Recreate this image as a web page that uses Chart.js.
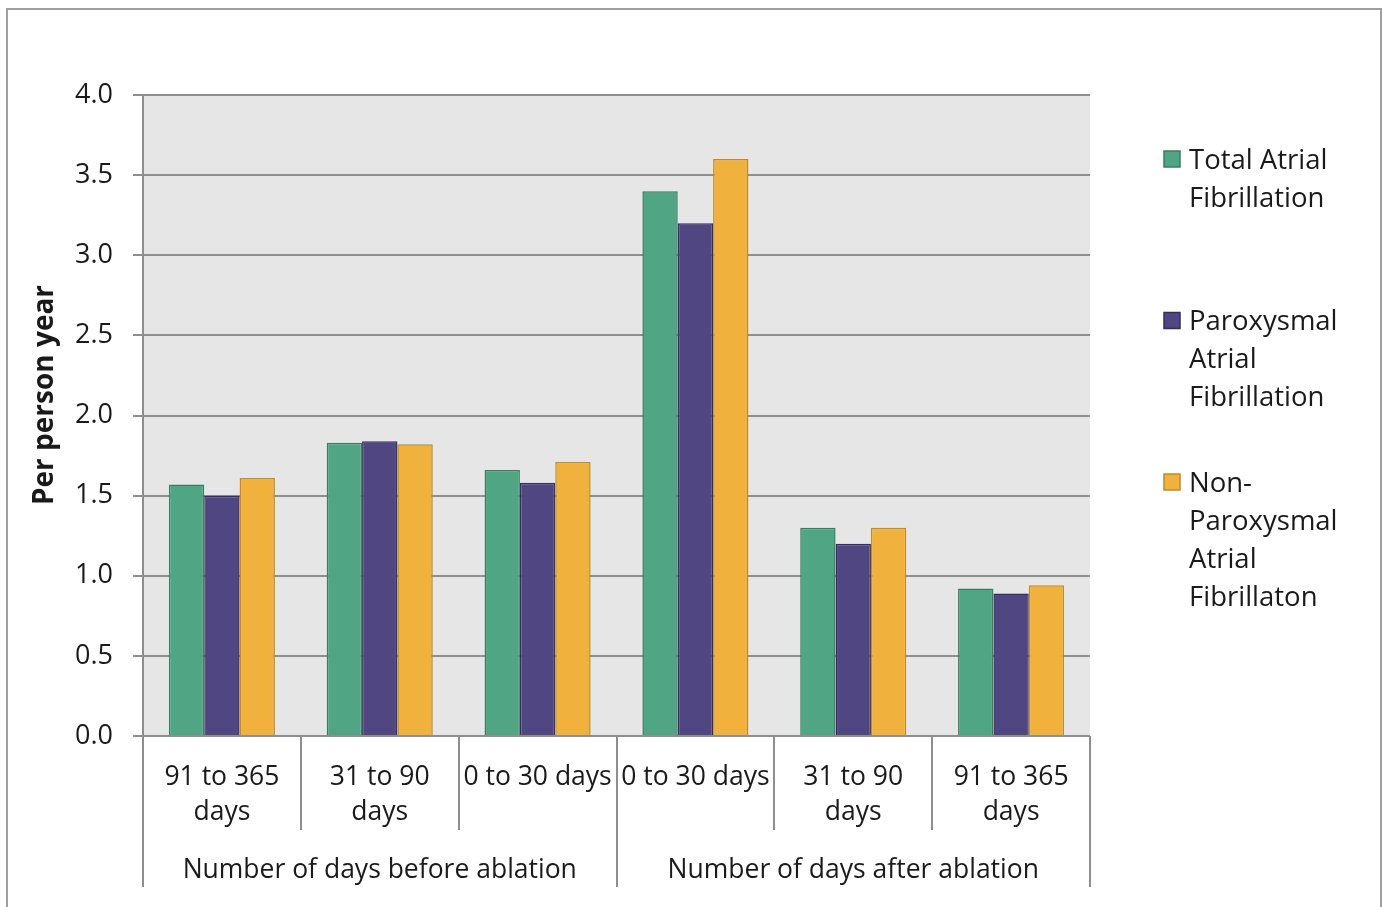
<!DOCTYPE html>
<html>
<head>
<meta charset="utf-8">
<script src="https://cdn.jsdelivr.net/npm/chart.js@4"></script>
<style>
  html, body { margin: 0; padding: 0; background: #fff; overflow: hidden; }
  #wrap { position: relative; width: 1382px; height: 907px; }
  #frame { position: absolute; left: 6px; top: 8px; width: 1372px; height: 940px; border: 2px solid #a0a0a0; pointer-events: none; }
</style>
</head>
<body>
<div id="wrap">
  <canvas id="afChart" width="1382" height="907"></canvas>
  <div id="frame"></div>
</div>
<script>
const periods = [
    ['91 to 365', 'days'], ['31 to 90', 'days'], '0 to 30 days',
    '0 to 30 days', ['31 to 90', 'days'], ['91 to 365', 'days']
];
const groupLabels = ['Number of days before ablation', 'Number of days after ablation'];

const seriesNames = ['Total Atrial Fibrillation', 'Paroxysmal Atrial Fibrillation', 'Non-Paroxysmal Atrial Fibrillaton'];
const legendLines = [
    ['Total Atrial', 'Fibrillation'],
    ['Paroxysmal', 'Atrial', 'Fibrillation'],
    ['Non-', 'Paroxysmal', 'Atrial', 'Fibrillaton']
];

const totalAF = [1.57, 1.83, 1.66, 3.40, 1.30, 0.92];
const paroxysmalAF = [1.50, 1.84, 1.58, 3.20, 1.20, 0.89];
const nonParoxysmalAF = [1.61, 1.82, 1.71, 3.60, 1.30, 0.94];

const yTitle = 'Per person year';

const FONT = "'Open Sans', 'Noto Sans', sans-serif";
const TEXT = '#1a1a1a';
const LINE = '#8e8e8e';

// grey plot background, x separators, group labels, y title, legend
const decorations = {
    id: 'decorations',
    beforeDraw(chart) {
        const a = chart.chartArea;
        const ctx = chart.ctx;
        ctx.save();
        ctx.fillStyle = '#e6e6e6';
        ctx.fillRect(a.left, a.top, a.right - a.left, a.bottom - a.top);
        ctx.restore();
    },
    afterDraw(chart) {
        const ctx = chart.ctx;
        const a = chart.chartArea;
        const x = chart.scales.x;
        const n = periods.length;
        const step = (a.right - a.left) / n;

        ctx.save();
        ctx.strokeStyle = LINE;
        ctx.lineWidth = 2;
        for (let i = 0; i <= n; i++) {
            const px = Math.round(a.left + i * step);
            const long = i === 0 || i === n || i === n / 2;
            ctx.beginPath();
            ctx.moveTo(px, a.bottom);
            ctx.lineTo(px, long ? 887 : 830);
            ctx.stroke();
        }

        ctx.fillStyle = TEXT;
        ctx.font = '26.5px ' + FONT;
        ctx.textAlign = 'center';
        ctx.textBaseline = 'middle';
        groupLabels.forEach((g, k) => {
            const first = x.getPixelForValue(k * 3);
            const last = x.getPixelForValue(k * 3 + 2);
            ctx.fillText(g, (first + last) / 2, 870);
        });

        // y axis title
        ctx.save();
        ctx.translate(45, 395);
        ctx.rotate(-Math.PI / 2);
        ctx.font = 'bold 28px ' + FONT;
        ctx.fillText(yTitle, 0, 0);
        ctx.restore();

        // legend
        ctx.textAlign = 'left';
        ctx.font = '27.5px ' + FONT;
        chart.data.datasets.forEach((ds, i) => {
            const top = 161 + i * 161.5;
            ctx.fillStyle = ds.backgroundColor;
            ctx.strokeStyle = ds.borderColor;
            ctx.lineWidth = 1.5;
            ctx.fillRect(1164, top - 10, 16, 16);
            ctx.strokeRect(1164, top - 10, 16, 16);
            ctx.fillStyle = TEXT;
            legendLines[i].forEach((line, j) => {
                ctx.fillText(line, 1189, top + j * 38);
            });
        });
        ctx.restore();
    }
};

const ctx = document.getElementById('afChart').getContext('2d');
new Chart(ctx, {
    type: 'bar',
    data: {
        labels: periods,
        datasets: [
            { label: seriesNames[0], data: totalAF, backgroundColor: '#4fa584', borderColor: '#3b7c62' },
            { label: seriesNames[1], data: paroxysmalAF, backgroundColor: '#4f4682', borderColor: '#352e60' },
            { label: seriesNames[2], data: nonParoxysmalAF, backgroundColor: '#f0b23c', borderColor: '#c08a28' }
        ]
    },
    options: {
        responsive: false,
        animation: false,
        devicePixelRatio: 1,
        layout: { padding: { left: 0, top: 95, right: 292, bottom: 0 } },
        datasets: {
            bar: {
                borderWidth: 1.5,
                barPercentage: 1.0,
                categoryPercentage: 0.672
            }
        },
        plugins: {
            legend: { display: false },
            tooltip: { enabled: false }
        },
        scales: {
            x: {
                grid: { display: false, drawTicks: false },
                border: { display: false },
                ticks: {
                    color: TEXT,
                    font: { family: FONT, size: 26.5, lineHeight: 1.32 },
                    padding: 24,
                    maxRotation: 0,
                    autoSkip: false
                },
                afterFit(s) { s.height = 171; }
            },
            y: {
                min: 0,
                max: 4,
                grid: { color: LINE, lineWidth: 2, tickLength: 10 },
                border: { display: true, color: LINE, width: 2 },
                ticks: {
                    stepSize: 0.5,
                    color: TEXT,
                    font: { family: FONT, size: 27 },
                    padding: 20,
                    callback: v => v.toFixed(1)
                },
                afterFit(s) { s.width = 143; }
            }
        }
    },
    plugins: [decorations]
});
</script>
</body>
</html>
